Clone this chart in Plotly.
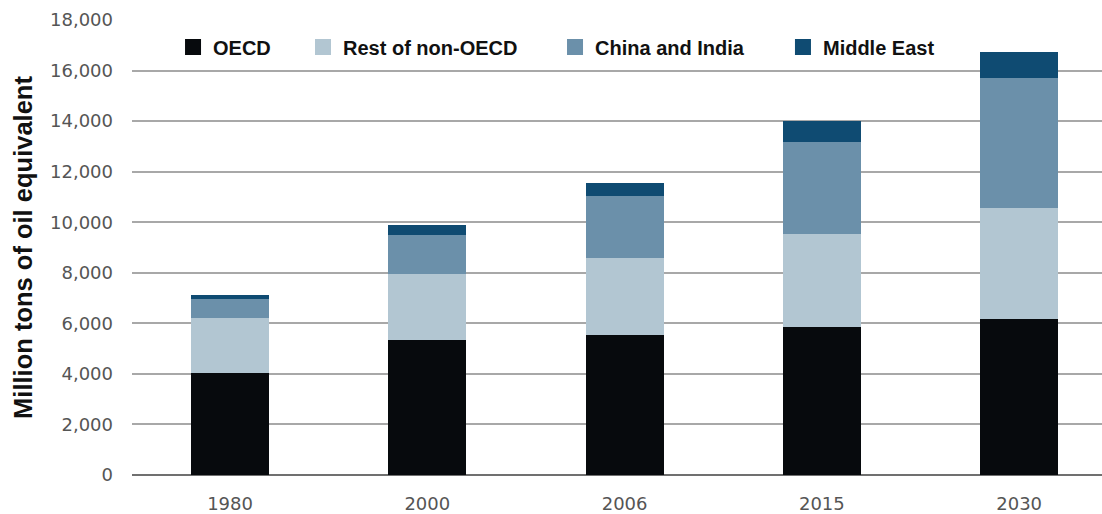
import plotly.graph_objects as go

years = ["1980", "2000", "2006", "2015", "2030"]
oecd = [4050, 5350, 5550, 5850, 6170]
rest_non_oecd = [2160, 2600, 3030, 3670, 4380]
china_india = [750, 1550, 2450, 3640, 5140]
middle_east = [160, 400, 530, 840, 1050]

series_names = ["OECD", "Rest of non-OECD", "China and India", "Middle East"]
series_values = [oecd, rest_non_oecd, china_india, middle_east]
colors = ["#070a0d", "#b2c6d2", "#6b90aa", "#0f4b72"]
legend_ids = ["legend", "legend2", "legend3", "legend4"]
legend_x = [0.0423, 0.1763, 0.4361, 0.6711]

fig = go.Figure()
for name, vals, col, lid in zip(series_names, series_values, colors, legend_ids):
    fig.add_trace(go.Bar(x=years, y=vals, name=name, marker=dict(color=col, line=dict(width=0)),
                         showlegend=False))
    # legend proxy with a larger square symbol
    fig.add_trace(go.Scatter(x=[None], y=[None], mode="markers", name=name,
                             marker=dict(symbol="square", size=20, color=col),
                             showlegend=True, legend=lid, hoverinfo="skip"))

legend_font = dict(family="Liberation Sans, Arial, sans-serif", size=20, color="#111111", weight="bold")
legend_common = dict(orientation="h", yanchor="middle", y=0.9407, xanchor="left",
                     bgcolor="rgba(0,0,0,0)", borderwidth=0, font=legend_font,
                     itemsizing="trace")

layout_legends = {}
for lid, lx in zip(legend_ids, legend_x):
    layout_legends[lid] = dict(legend_common, x=lx)

fig.update_layout(
    barmode="stack",
    bargap=0.604,
    width=1102, height=514,
    margin=dict(l=132, r=0, t=20, b=39),
    plot_bgcolor="white", paper_bgcolor="white",
    **layout_legends,
)
fig.update_xaxes(
    type="category", range=[-0.497, 4.42], automargin=False,
    showgrid=False, showline=False, zeroline=False,
    ticks="", ticklabelstandoff=16,
    tickfont=dict(family="DejaVu Sans, sans-serif", size=18, color="#555555"),
)
fig.update_yaxes(
    range=[0, 18000], dtick=2000, tickformat=",d", automargin=False,
    showgrid=True, gridcolor="#a8a8a8", gridwidth=1.5,
    zeroline=True, zerolinecolor="#707070", zerolinewidth=1.5,
    showline=False, ticks="", ticklabelstandoff=18,
    tickfont=dict(family="DejaVu Sans, sans-serif", size=18, color="#555555"),
    title=dict(text="Million tons of oil equivalent", standoff=10,
               font=dict(family="Liberation Sans, Arial, sans-serif", size=25.5,
                         color="#111111", weight="bold")),
)

fig.write_html("out.html")
